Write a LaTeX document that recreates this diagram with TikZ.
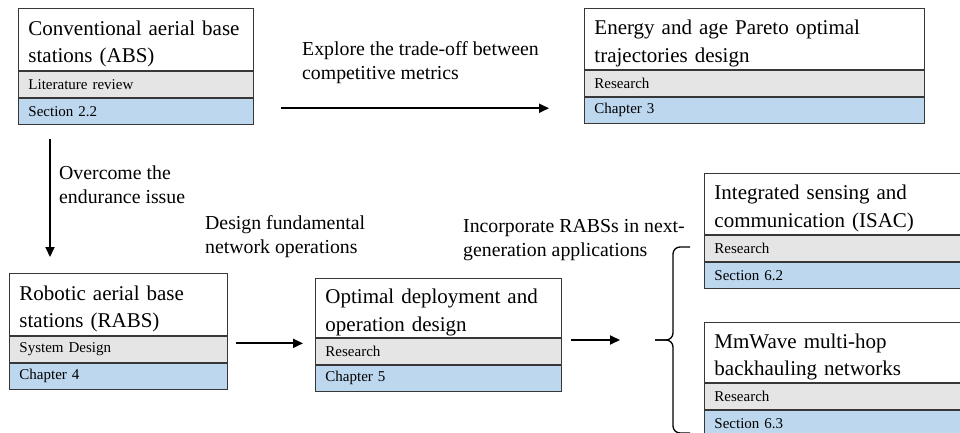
\documentclass[tikz,border=0pt]{standalone}
\usepackage{fontspec}
\setmainfont{Liberation Serif}
\usetikzlibrary{arrows.meta,calc}
\definecolor{rowgray}{RGB}{229,229,229}
\definecolor{rowblue}{RGB}{189,215,238}
\definecolor{edge}{RGB}{55,55,55}

\tikzset{
  ttl/.style={draw=edge, line width=0.9pt, fill=white, anchor=north west,
    inner xsep=10pt, inner ysep=0pt, align=left,
    execute at begin node={\rule{0pt}{24pt}},
    font=\fontsize{21}{27.5}\selectfont},
  rowbase/.style={draw=edge, line width=0.9pt, anchor=north west,
    inner xsep=10pt, inner ysep=0pt, minimum height=26pt, align=left,
    font=\fontsize{15}{18}\selectfont},
  rolerow/.style={rowbase, fill=rowgray},
  refrow/.style={rowbase, fill=rowblue},
  lbl/.style={anchor=base west, inner sep=0pt, align=left,
    font=\fontsize{19.8}{24}\selectfont},
  arr/.style={line width=1.8pt, -{Triangle[length=10pt,width=9pt]}},
  curly/.style={line width=1.3pt, rounded corners=7pt},
}

% \panel{name}{x,y of top-left}{width}{title height}{title}{role}{reference}
\newcommand\panel[7]{%
  \pgfmathsetmacro\panelw{#3-20}%
  \node[ttl, text width=\panelw pt, minimum height=#4pt] (#1) at (#2) {#5};
  \node[rolerow, text width=\panelw pt] (#1r) at (#1.south west) {#6};
  \node[refrow, text width=\panelw pt] (#1c) at (#1r.south west) {#7};
}

\begin{document}
\begin{tikzpicture}[x=1pt, y=-1pt]
\useasboundingbox (0,0) rectangle (960,433);

\panel{abs}{18,8}{235}{62}{Conventional aerial base\\stations (ABS)}{Literature review}{Section 2.2}
\panel{par}{584,8}{340}{61}{Energy and age Pareto optimal\\trajectories design}{Research}{Chapter 3}
\panel{rabs}{9,273}{218}{62}{Robotic aerial base\\stations (RABS)}{System Design}{Chapter 4}
\panel{opt}{315,278}{246}{59}{Optimal deployment and\\operation design}{Research}{Chapter 5}
\panel{isac}{704,173}{258}{61}{Integrated sensing and\\communication (ISAC)}{Research}{Section 6.2}
\panel{mmw}{704,322}{258}{60}{MmWave multi-hop\\backhauling networks}{Research}{Section 6.3}

% connector labels (anchored on the baseline of their last line)
\node[lbl] (l1) at (302,79.5) {Explore the trade-off between\\competitive metrics};
\node[lbl] (l2) at (59,203.5) {Overcome the\\endurance issue};
\node[lbl] (l3) at (205,253.5) {Design fundamental\\network operations};
\node[lbl] (l4) at (463,256) {Incorporate RABSs in next-\\generation applications};

% curly bracket gathering the two applications
\coordinate (brtip) at (655,340);
\draw[curly] (690,247) -- (673,247) -- (673,340) -- (brtip);
\draw[curly] (690,433) -- (673,433) -- (673,340) -- (brtip);

% connectors
\coordinate (s1) at ([xshift=27pt,yshift=3pt]absc.east);
\draw[arr] (s1) -- ($(s1 -| parc.west)+(-35,0)$);
\coordinate (s2) at ([xshift=32pt,yshift=-14pt]absc.south west);
\draw[arr] (s2) -- ($(s2 |- rabs.north)+(0,-16)$);
\coordinate (s3) at ([xshift=8pt,yshift=6pt]rabsr.east);
\draw[arr] (s3) -- ($(s3 -| optr.west)+(-12,0)$);
\coordinate (s4) at ($(optr.east |- brtip)+(9,0)$);
\draw[arr] (s4) -- ($(brtip)+(-35,0)$);
\end{tikzpicture}
\end{document}
